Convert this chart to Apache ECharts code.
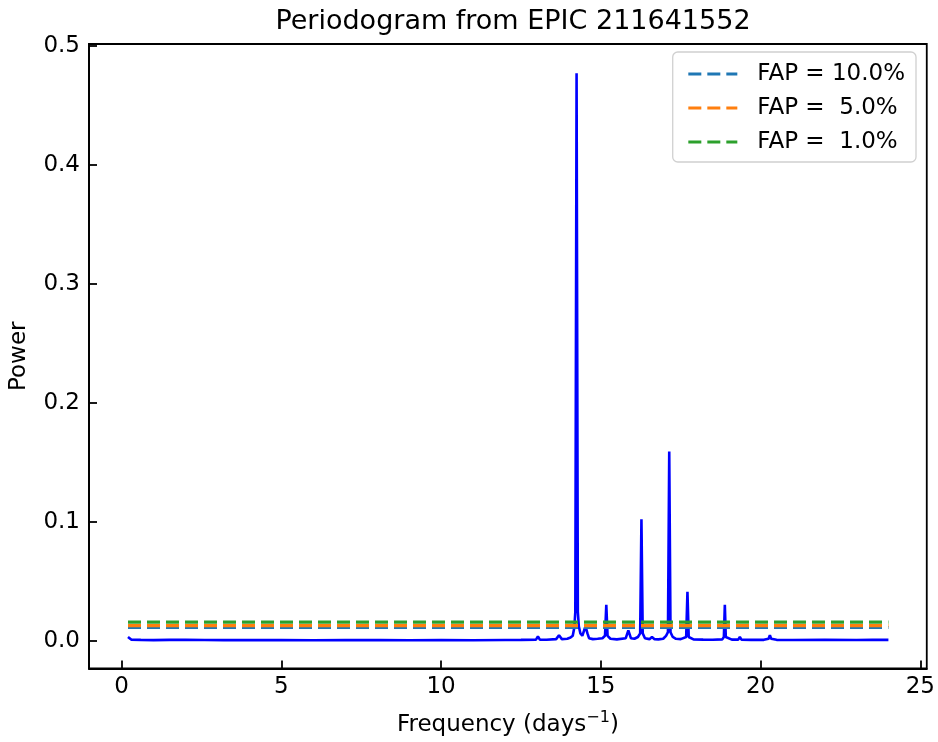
<!DOCTYPE html>
<html><head><meta charset="utf-8">
<script src="https://cdn.jsdelivr.net/npm/echarts@6/dist/echarts.min.js"></script>
<style>html,body{margin:0;padding:0;background:#fff}#c{width:938px;height:742px}</style>
</head><body><div id="c"></div>
<script>
// ---- data ----
const freq = [0.2, 0.24, 0.3, 0.6, 1.0, 1.5, 2.0, 2.05, 2.6, 3.2, 4.0, 5.0, 6.0, 7.0, 8.1, 8.15, 9.0, 10.0, 11.0, 12.0, 12.5, 12.97, 13.03, 13.09, 13.3, 13.6, 13.69, 13.78, 13.95, 14.05, 14.12, 14.17, 14.2, 14.24, 14.28, 14.31, 14.36, 14.42, 14.48, 14.52, 14.55, 14.58, 14.63, 14.75, 14.9, 15.05, 15.13, 15.17, 15.21, 15.3, 15.5, 15.78, 15.86, 15.94, 16.05, 16.16, 16.23, 16.27, 16.31, 16.38, 16.52, 16.6, 16.68, 16.8, 16.95, 17.04, 17.1, 17.14, 17.18, 17.25, 17.35, 17.5, 17.67, 17.71, 17.75, 17.9, 18.2, 18.5, 18.8, 18.85, 18.88, 18.91, 19.1, 19.3, 19.35, 19.4, 19.7, 20.1, 20.25, 20.29, 20.33, 20.5, 21.0, 22.0, 23.0, 23.5, 24.0];
const power = [0.003, 0.0015, 0.0008, 0.0006, 0.0004, 0.0006, 0.0007, 0.0012, 0.0005, 0.0004, 0.0005, 0.0004, 0.0003, 0.0004, 0.0004, 0.0009, 0.0003, 0.0004, 0.0003, 0.0005, 0.0006, 0.0008, 0.0035, 0.0008, 0.0007, 0.0012, 0.0045, 0.0012, 0.0015, 0.0025, 0.004, 0.011, 0.024, 0.477, 0.024, 0.012, 0.006, 0.004, 0.005, 0.012, 0.013, 0.006, 0.002, 0.0012, 0.0015, 0.002, 0.004, 0.030, 0.004, 0.0015, 0.001, 0.002, 0.0085, 0.002, 0.0015, 0.003, 0.006, 0.102, 0.006, 0.002, 0.0012, 0.003, 0.0012, 0.001, 0.0015, 0.004, 0.007, 0.159, 0.007, 0.003, 0.0015, 0.0012, 0.003, 0.041, 0.003, 0.001, 0.0008, 0.0007, 0.001, 0.003, 0.030, 0.003, 0.0008, 0.0008, 0.003, 0.0008, 0.0006, 0.0006, 0.0015, 0.0045, 0.0015, 0.0006, 0.0005, 0.0006, 0.0005, 0.0007, 0.0006];
const fapLevels = [0.011, 0.0125, 0.0155];
const fapNames = ['FAP = 10.0%', 'FAP =  5.0%', 'FAP =  1.0%'];
const fapColors = ['#1f77b4', '#ff7f0e', '#2ca02c'];
const xTicks = [0, 5, 10, 15, 20, 25];
const yTicks = [0, 0.1, 0.2, 0.3, 0.4, 0.5];
const fMin = 0.2, fMax = 24.0;

const font = 'DejaVu Sans';
const chart = echarts.init(document.getElementById('c'), null, {renderer: 'canvas'});
const series = [{
  name: 'periodogram', type: 'line', showSymbol: false, symbol: 'none',
  data: freq.map((f, i) => [f, power[i]]),
  lineStyle: {color: '#0000ff', width: 2.6}, itemStyle: {color: '#0000ff'},
  z: 2, animation: false
}];
fapLevels.forEach((v, i) => series.push({
  name: fapNames[i], type: 'line', symbol: 'none',
  data: [[fMin, v], [fMax, v]],
  lineStyle: {color: fapColors[i], width: 3.2, type: [13, 6]},
  itemStyle: {color: fapColors[i]}, z: 3 + i, animation: false
}));
chart.setOption({
  animation: false,
  title: {text: 'Periodogram from EPIC 211641552', left: 508, top: 3, textAlign: 'center',
    textStyle: {fontFamily: font, fontSize: 27, fontWeight: 'normal', color: '#000'}},
  grid: {left: 88, right: 10, top: 44, bottom: 70, show: true, borderColor: '#000', borderWidth: 1.8, backgroundColor: 'transparent'},
  legend: {data: fapNames, orient: 'vertical', right: 22, top: 52, itemWidth: 49, itemHeight: 14, itemGap: 10,
    padding: [10, 11, 8, 14], borderColor: '#d0d0d0', borderWidth: 1.3, borderRadius: 5,
    itemStyle: {opacity: 0},
    lineStyle: {width: 3.2, type: [13, 6]},
    textStyle: {fontFamily: font, fontSize: 23, lineHeight: 24, color: '#000', padding: [0, 0, 0, 15]}},
  xAxis: {type: 'value', min: -1.02, max: 25.2, splitLine: {show: false},
    name: 'Frequency (days{sup|−1})', nameLocation: 'middle', nameGap: 41,
    nameTextStyle: {fontFamily: font, fontSize: 23, color: '#000',
      rich: {sup: {fontFamily: font, fontSize: 16, verticalAlign: 'top', padding: [0, 0, 16, 0]}}},
    axisLine: {onZero: false, lineStyle: {color: '#000', width: 1.8}},
    axisTick: {inside: true, length: 8, customValues: xTicks, lineStyle: {color: '#000', width: 1.8}},
    axisLabel: {customValues: xTicks, fontFamily: font, fontSize: 23, color: '#000', margin: 7}},
  yAxis: {type: 'value', min: -0.0235, max: 0.5017, splitLine: {show: false},
    name: 'Power', nameLocation: 'middle', nameGap: 58, nameRotate: 90,
    nameTextStyle: {fontFamily: font, fontSize: 23, color: '#000'},
    axisLine: {show: true, onZero: false, lineStyle: {color: '#000', width: 1.8}},
    axisTick: {show: true, inside: true, length: 8, customValues: yTicks, lineStyle: {color: '#000', width: 1.8}},
    axisLabel: {customValues: yTicks, fontFamily: font, fontSize: 23, color: '#000', margin: 9,
      formatter: v => v.toFixed(1)}},
  series: series
});
</script></body></html>
